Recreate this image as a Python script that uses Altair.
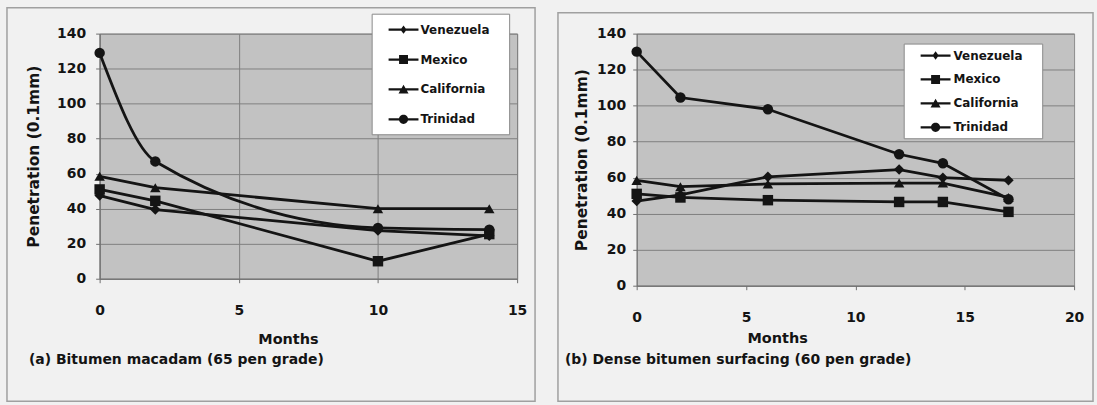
import altair as alt
import pandas as pd

# Penetration of recovered bitumen (0.1 mm) against months of service
SERIES = ["Venezuela", "Mexico", "California", "Trinidad"]

months_a = [0, 2, 10, 14]
venezuela_a = [47.5, 39.5, 27.5, 24.5]
mexico_a = [51, 44.5, 10, 25.5]
california_a = [58.5, 52, 40, 40]
trinidad_a = [129, 67, 29, 28]

months_b = [0, 2, 6, 12, 14, 17]
venezuela_b = [47, 50.5, 60.5, 64.5, 60, 58.5]
mexico_b = [51, 49, 47.5, 46.5, 46.5, 41]
california_b = [58.5, 55, 56.5, 57, 57, 49]
trinidad_b = [130, 104.5, 98, 73, 68, 48]

y_ticks = [0, 20, 40, 60, 80, 100, 120, 140]
x_ticks_a = [0, 5, 10, 15]
x_ticks_b = [0, 5, 10, 15, 20]

caption_a = "(a) Bitumen macadam (65 pen grade)"
caption_b = "(b) Dense bitumen surfacing (60 pen grade)"

FONT = "DejaVu Sans"
INK = "#141414"
FRAME = "#a0a0a0"
AXIS = "#6f6f6f"

MARKERS = ["diamond", "square", "triangle-up", "circle"]

# Legend glyphs: a line segment with the series marker on it.
# Units are half the symbol's nominal width (symbolSize 196 -> 7 px).
KEY_SIZE = 196
_line = "M-2.143,-0.16H2.143V0.16H-2.143Z "
LEGEND_GLYPHS = [
    _line + "M0,-0.6L0.45,0L0,0.6L-0.45,0Z",
    _line + "M-0.64,-0.64H0.64V0.64H-0.64Z",
    _line + "M0,-0.66L0.72,0.6H-0.72Z",
    _line + "M0.66,0A0.66,0.66,0,1,1,-0.66,0A0.66,0.66,0,1,1,0.66,0Z",
]


def long_table(months, columns):
    rows = []
    for name, values in zip(SERIES, columns):
        for m, v in zip(months, values):
            rows.append({"month": m, "pen": v, "series": name})
    return pd.DataFrame(rows)


df_a = long_table(months_a, [venezuela_a, mexico_a, california_a, trinidad_a])
df_b = long_table(months_b, [venezuela_b, mexico_b, california_b, trinidad_b])


def panel(df, x_ticks, x_max, width, height, smooth, vgrid, caption, g):
    x = alt.X(
        "month:Q",
        scale=alt.Scale(domain=[0, x_max], nice=False),
        axis=alt.Axis(
            values=x_ticks, grid=vgrid, gridColor="#808080", gridWidth=1,
            title="Months", titleX=g["months_x"], titleY=g["months_y"],
            titleBaseline="middle", titleFont=FONT, titleFontSize=14.5,
            titleFontWeight="bold", titleColor=INK,
            labelFont=FONT, labelFontSize=14, labelFontWeight="bold",
            labelColor=INK, labelPadding=21, tickSize=4, tickColor=AXIS,
            domainColor=AXIS, labelFlush=False,
        ),
    )
    y = alt.Y(
        "pen:Q",
        scale=alt.Scale(domain=[0, 140], nice=False),
        axis=alt.Axis(
            values=y_ticks, grid=True, gridColor="#808080", gridWidth=1,
            title="Penetration (0.1mm)", titleX=g["ytitle_x"],
            titleY=height / 2, titleBaseline="middle", titleAngle=270,
            titleFont=FONT, titleFontSize=15.5, titleFontWeight="bold",
            titleColor=INK, labelFont=FONT, labelFontSize=14,
            labelFontWeight="bold", labelColor=INK,
            labelPadding=g["ylab_pad"], tickSize=4, tickColor=AXIS,
            domainColor=AXIS,
        ),
    )
    base = alt.Chart(df)

    frame = alt.Chart(pd.DataFrame({"box": [1]})).mark_rect(
        fillOpacity=0, stroke=FRAME, strokeWidth=1.5
    ).encode(
        x=alt.value(g["frame"][0]), x2=alt.value(g["frame"][1]),
        y=alt.value(g["frame"][2]), y2=alt.value(g["frame"][3]),
    )

    straight = base.transform_filter(
        alt.FieldOneOfPredicate(field="series", oneOf=[s for s in SERIES if s not in smooth])
    ).mark_line(color=INK, strokeWidth=2.8).encode(x=x, y=y, detail="series:N")

    layers = [frame, straight]
    if smooth:
        curved = base.transform_filter(
            alt.FieldOneOfPredicate(field="series", oneOf=smooth)
        ).mark_line(color=INK, strokeWidth=2.8, interpolate="monotone").encode(
            x=x, y=y, detail="series:N"
        )
        layers.append(curved)

    points = base.mark_point(filled=True, color=INK, size=110, opacity=1).encode(
        x=x, y=y,
        shape=alt.Shape("series:N", scale=alt.Scale(domain=SERIES, range=MARKERS), legend=None),
    )
    layers.append(points)

    # an empty right-hand legend title only serves as right margin inside the box
    key = base.transform_filter("false").mark_point(filled=True, color=INK).encode(
        x=x, y=y,
        shape=alt.Shape(
            "series:N",
            scale=alt.Scale(domain=SERIES, range=LEGEND_GLYPHS),
            legend=alt.Legend(
                title="\u00a0", titleOrient="right", titlePadding=g["leg_tail"],
                titleFontSize=1,
                orient="none", legendX=g["leg_x"], legendY=g["leg_y"],
                fillColor="white", strokeColor="#8a8a8a", padding=g["leg_pad"],
                rowPadding=g["leg_row"], symbolSize=KEY_SIZE, symbolFillColor=INK,
                symbolStrokeWidth=0, symbolOpacity=1,
                symbolOffset=g["sym_off"], labelOffset=g["lab_off"],
                labelFont=FONT, labelFontSize=12, labelFontWeight="bold",
                labelColor=INK,
            ),
        ),
    )
    layers.append(key)

    return alt.layer(*layers).resolve_scale(shape="independent").properties(
        width=width, height=height,
        title=alt.TitleParams(
            caption, orient="bottom", anchor="start", frame="group",
            dx=g["cap_dx"], offset=g["cap_off"], font=FONT, fontSize=14,
            fontWeight="bold", color=INK,
        ),
    )


geom_a = dict(months_x=189, months_y=61, ytitle_x=-66, ylab_pad=10,
              frame=(-93, 437, -26, 369), leg_x=273, leg_y=-20, leg_pad=9,
              leg_row=17, sym_off=16, lab_off=10, leg_tail=11,
              cap_dx=-71, cap_off=-49)
geom_b = dict(months_x=141, months_y=53, ytitle_x=-55, ylab_pad=7,
              frame=(-79, 458, -21, 369), leg_x=268, leg_y=10, leg_pad=5,
              leg_row=11, sym_off=20, lab_off=11, leg_tail=15,
              cap_dx=-72, cap_off=-49)

chart_a = panel(df_a, x_ticks_a, 15, 419, 246, ["Trinidad"], True, caption_a, geom_a)
chart_b = panel(df_b, x_ticks_b, 20, 439, 253, [], False, caption_b, geom_b)

chart = alt.hconcat(chart_a, chart_b, spacing=120, bounds="flush").properties(
    padding={"left": 5, "top": 5, "right": 2, "bottom": 5}
).configure(background="#f1f1f1").configure_view(
    fill="#c2c2c2", stroke="#8c8c8c", strokeWidth=1
)

chart.save("out.html", embed_options={"renderer": "svg", "actions": False})
